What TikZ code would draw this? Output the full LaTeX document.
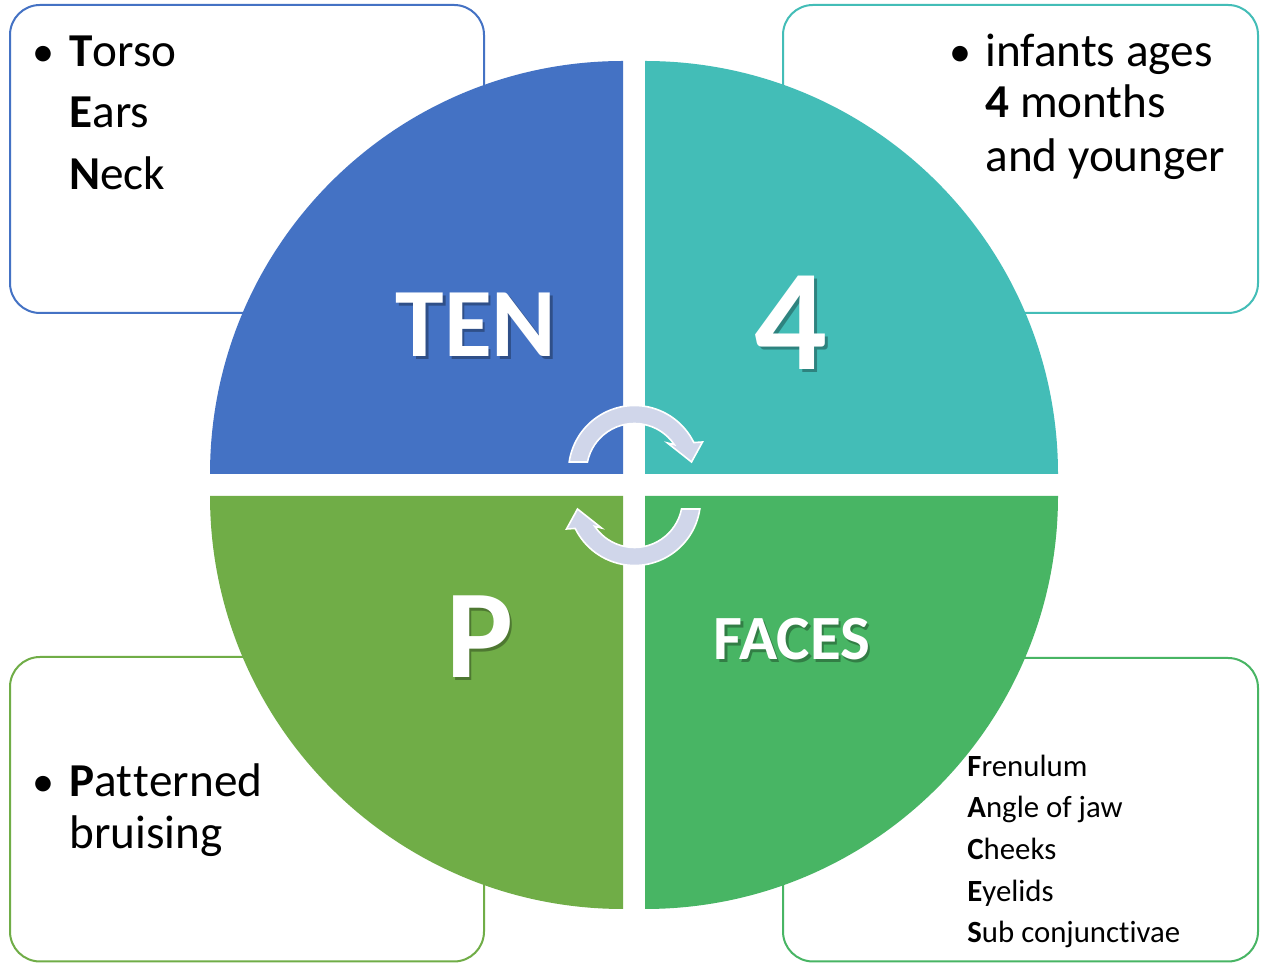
\documentclass[tikz,border=0pt]{standalone}
\usepackage{fontspec}
\setmainfont{Carlito}[RawFeature={-liga;-clig;-dlig}]
\usetikzlibrary{calc}
\definecolor{cblue}{HTML}{4472C4}
\definecolor{cteal}{HTML}{43BDB7}
\definecolor{colive}{HTML}{70AD47}
\definecolor{cgreen}{HTML}{48B564}
\definecolor{carrow}{HTML}{D0D6EA}
\tikzset{
  infobox/.style={line width=1pt, fill=white, rounded corners=15pt},
  boxtext/.style={anchor=base west, inner sep=0pt, font=\fontsize{23.6}{28}\selectfont},
  smalltext/.style={anchor=base west, inner sep=0pt, font=\fontsize{15.4}{18}\selectfont},
  bulletmark/.style={anchor=base, inner sep=0pt, font=\fontsize{22}{28}\selectfont},
  bigtext/.style={anchor=base, inner sep=0pt, text=white, font=\bfseries},
  bigshadow/.style={anchor=base, inner sep=0pt, text=black, opacity=0.3, font=\bfseries},
  cyclearrow/.style={fill=carrow, draw=white, line width=0.8pt, line join=miter}
}
\begin{document}
\begin{tikzpicture}[x=0.5pt,y=0.5pt]
\useasboundingbox (0,0) rectangle (1263,963);
\fill[white] (0,0) rectangle (1263,963);

% boxes
\draw[infobox, draw=cblue]  (10,650) rectangle (484,958);
\draw[infobox, draw=cteal]  (783,650) rectangle (1258,958);
\draw[infobox, draw=colive] (10,1.5) rectangle (484,306);
\draw[infobox, draw=cgreen] (783,1.5) rectangle (1258,305);

% quadrants
\fill[cblue]  (623,489) -- (210,489) arc[start angle=180, end angle=90, radius=413] -- cycle;
\fill[cteal]  (645,489) -- (645,902) arc[start angle=90, end angle=0, radius=413] -- cycle;
\fill[colive] (623,467) -- (210,467) arc[start angle=180, end angle=270, radius=413] -- cycle;
\fill[cgreen] (645,467) -- (1058,467) arc[start angle=0, end angle=-90, radius=413] -- cycle;

% big labels
\node[bigshadow, font=\bfseries\fontsize{49}{55}\selectfont] (tensh) at (478.5,603.5) {TEN};
\node[bigtext, font=\bfseries\fontsize{49}{55}\selectfont] (ten) at (476,606) {TEN};
\node[bigshadow, font=\bfseries\fontsize{72}{80}\selectfont] (foursh) at (793.5,590.5) {4};
\node[bigtext, font=\bfseries\fontsize{72}{80}\selectfont] (four) at (791,593) {4};
\node[bigshadow, font=\bfseries\fontsize{63}{70}\selectfont] (psh) at (482.5,282.5) {P};
\node[bigtext, font=\bfseries\fontsize{63}{70}\selectfont] (p) at (480,285) {P};
\node[bigshadow, font=\bfseries\fontsize{31.5}{36}\selectfont] (facessh) at (794.5,300.5) {FACES};
\node[bigtext, font=\bfseries\fontsize{31.5}{36}\selectfont] (faces) at (792,303) {FACES};

% cycle arrows
\begin{scope}[shift={(634.5,491.5)}]
\draw[cyclearrow] (171.7:66) arc[start angle=171.7, end angle=26, radius=66]
  -- (68,29.5) -- (57,9.5) -- (33,28.5) -- (34:48)
  arc[start angle=34, end angle=168.6, radius=48] -- cycle;
\end{scope}
\begin{scope}[shift={(634.5,463.5)}, rotate=180]
\draw[cyclearrow] (171.7:66) arc[start angle=171.7, end angle=26, radius=66]
  -- (68,29.5) -- (57,9.5) -- (33,28.5) -- (34:48)
  arc[start angle=34, end angle=168.6, radius=48] -- cycle;
\end{scope}

% top-left text
\node[bulletmark] (b1) at (43,896) {•};
\node[boxtext] (torso) at (69,896) {\textbf{T}orso};
\node[boxtext] (ears) at (69,835) {\textbf{E}ars};
\node[boxtext] (neck) at (69,773) {\textbf{N}eck};

% top-right text
\node[bulletmark] (b2) at (960,896) {•};
\node[boxtext] (inf1) at (985,896) {infants ages};
\node[boxtext] (inf2) at (985,845) {\textbf{4} months};
\node[boxtext] (inf3) at (985,791) {and younger};

% bottom-left text
\node[bulletmark] (b3) at (43,166) {•};
\node[boxtext] (pat1) at (69,166) {\textbf{P}at\kern0.5pt t\kern0pt erned};
\node[boxtext] (pat2) at (69,114) {bruising};

% bottom-right text
\node[smalltext] (f1) at (967,186) {\textbf{F}renulum};
\node[smalltext] (f2) at (967,145) {\textbf{A}ngle of jaw};
\node[smalltext] (f3) at (967,103) {\textbf{C}heeks};
\node[smalltext] (f4) at (967,61) {\textbf{E}yelids};
\node[smalltext] (f5) at (967,20) {\textbf{S}ub conjunct\kern0pt ivae};
\end{tikzpicture}
\end{document}
